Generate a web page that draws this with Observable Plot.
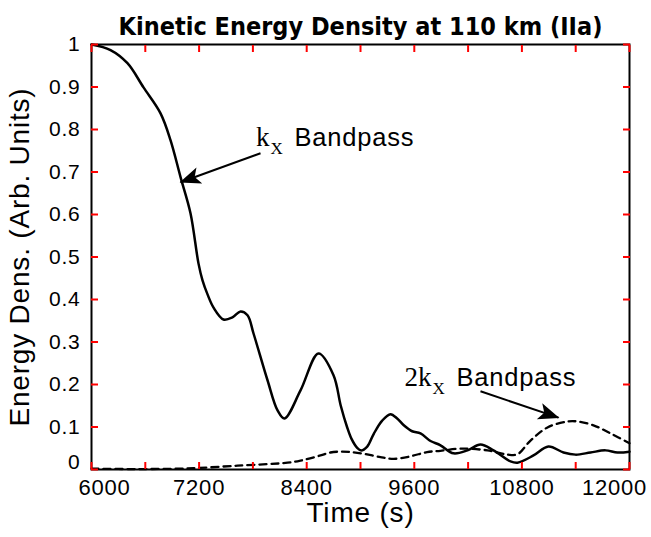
<!DOCTYPE html>
<html><head><meta charset="utf-8">
<script src="https://cdn.jsdelivr.net/npm/d3@7"></script>
<script src="https://cdn.jsdelivr.net/npm/@observablehq/plot@0.6"></script>
<style>
body{margin:0;background:#fff}
#chart g[font-weight="bold"] text{letter-spacing:0}
#chart g[font-family*="Serif"] text{letter-spacing:0}
</style></head><body><div id="chart"></div>
<script>
// k_x bandpass (solid)
const solidTime   = [6000, 6212, 6401, 6580, 6770, 6881, 6993, 7104, 7193, 7238, 7294, 7361, 7472, 7572, 7662, 7740, 7807, 7963, 8075, 8152, 8331, 8532, 8699, 8780, 8850, 8900, 8963, 9008, 9075, 9148, 9242, 9334, 9409, 9483, 9576, 9669, 9781, 9892, 10037, 10193, 10338, 10483, 10673, 10751, 10929, 11096, 11264, 11398, 11565, 11732, 11866, 12000];
const solidEnergy = [1.000, 0.987, 0.956, 0.899, 0.838, 0.775, 0.688, 0.603, 0.485, 0.445, 0.412, 0.381, 0.353, 0.358, 0.372, 0.363, 0.320, 0.210, 0.139, 0.120, 0.186, 0.273, 0.222, 0.150, 0.100, 0.072, 0.051, 0.045, 0.054, 0.084, 0.115, 0.130, 0.120, 0.104, 0.090, 0.085, 0.067, 0.057, 0.038, 0.045, 0.059, 0.045, 0.019, 0.016, 0.033, 0.054, 0.040, 0.035, 0.040, 0.045, 0.040, 0.042];
// 2k_x bandpass (dashed)
const dashedTime   = [6000, 6500, 7000, 7138, 7628, 8186, 8331, 8554, 8665, 8777, 8888, 9037, 9223, 9371, 9557, 9743, 9892, 10115, 10416, 10639, 10751, 10896, 11085, 11308, 11420, 11598, 11788, 12000];
const dashedEnergy = [0.002, 0.001, 0.002, 0.003, 0.009, 0.016, 0.021, 0.033, 0.040, 0.042, 0.041, 0.037, 0.029, 0.025, 0.031, 0.041, 0.044, 0.049, 0.045, 0.035, 0.036, 0.068, 0.099, 0.113, 0.113, 0.104, 0.085, 0.062];

const xTicks = [6000, 6600, 7200, 7800, 8400, 9000, 9600, 10200, 10800, 11400, 12000];
const xTickLabelsFirst = [6000];
const xTickLabelsMid = [7200, 8400, 9600, 10800];
const xTickLabelsLast = [12000];
const yTicks = [0, 0.1, 0.2, 0.3, 0.4, 0.5, 0.6, 0.7, 0.8, 0.9, 1];
const yTickLabels = [0.1, 0.2, 0.3, 0.4, 0.5, 0.6, 0.7, 0.8, 0.9, 1];
const yZeroLabel = [0];

const titleText = "Kinetic Energy Density at 110 km (IIa)";
const xLabel = "Time (s)";
const yLabel = "Energy Dens. (Arb. Units)";

// annotation labels (anchor = start of the subscript)
const labelTime   = [7996, 9803];
const labelEnergy = [0.761, 0.196];
const labelPre    = ["k", "2k"];
const labelSub    = ["X", "X"];
const labelText   = ["Bandpass", "Bandpass"];

// arrows
const arrowFromTime   = [7885, 10338];
const arrowFromEnergy = [0.744, 0.184];
const arrowToTime     = [6993, 11208];
const arrowToEnergy   = [0.676, 0.122];

const solid = solidTime.map((t, i) => ({t, v: solidEnergy[i]}));
const dashed = dashedTime.map((t, i) => ({t, v: dashedEnergy[i]}));
const labels = labelTime.map((t, i) => ({t, v: labelEnergy[i], pre: labelPre[i], sub: labelSub[i], text: labelText[i]}));
const arrows = arrowFromTime.map((t, i) => ({t1: t, v1: arrowFromEnergy[i], t2: arrowToTime[i], v2: arrowToEnergy[i]}));

const sans = "'Liberation Sans', Arial, Helvetica, sans-serif";
const serif = "'Liberation Serif', 'Times New Roman', serif";
const tickOpts = {tickSize: -7, tickFormat: () => "", label: null, stroke: "red", strokeWidth: 2};
const xLab = {anchor: "bottom", tickSize: 0, tickPadding: 10, fontSize: 22, label: null, tickFormat: d => String(d)};

const chart = Plot.plot({
  width: 651, height: 537,
  marginLeft: 91, marginRight: 22, marginTop: 44, marginBottom: 68,
  style: {fontFamily: sans, background: "#fff", color: "#000", letterSpacing: "0.8px"},
  x: {domain: [6000, 12000], axis: null},
  y: {domain: [0, 1], axis: null},
  marks: [
    Plot.line(dashed, {x: "t", y: "v", stroke: "#000", strokeWidth: 2.3, strokeDasharray: "7,5", curve: "catmull-rom"}),
    Plot.line(solid, {x: "t", y: "v", stroke: "#000", strokeWidth: 2.5, curve: "catmull-rom"}),
    Plot.frame({stroke: "#000", strokeWidth: 2}),
    Plot.axisX(xTicks, {anchor: "bottom", ...tickOpts}),
    Plot.axisX(xTicks, {anchor: "top", ...tickOpts}),
    Plot.axisY(yTicks, {anchor: "left", ...tickOpts}),
    Plot.axisY(yTicks, {anchor: "right", ...tickOpts}),
    Plot.axisX(xTickLabelsFirst, {...xLab, dx: 13}),
    Plot.axisX(xTickLabelsMid, xLab),
    Plot.axisX(xTickLabelsLast, {...xLab, dx: -15}),
    Plot.axisY(yTickLabels, {anchor: "left", tickSize: 0, tickPadding: 11, fontSize: 21, label: null, tickFormat: d => String(d)}),
    Plot.axisY(yZeroLabel, {anchor: "left", tickSize: 0, tickPadding: 11, fontSize: 21, label: null, dy: -7, tickFormat: d => String(d)}),
    Plot.text([titleText], {frameAnchor: "top", dy: -27, fontSize: 25, fontWeight: "bold", fontFamily: "'DejaVu Sans Condensed', 'DejaVu Sans', sans-serif"}),
    Plot.text([xLabel], {frameAnchor: "bottom", dy: 52, fontSize: 28}),
    Plot.text([yLabel], {frameAnchor: "left", textAnchor: "middle", dx: -71, rotate: -90, fontSize: 28}),
    Plot.link(arrows, {x1: "t1", y1: "v1", x2: "t2", y2: "v2", stroke: "#000", strokeWidth: 2}),
    Plot.text(labels, {x: "t", y: "v", text: "pre", textAnchor: "end", dx: -1, lineAnchor: "bottom", fontFamily: serif, fontSize: 27}),
    Plot.text(labels, {x: "t", y: "v", text: "sub", textAnchor: "start", dy: 8, lineAnchor: "bottom", fontFamily: serif, fontSize: 17}),
    Plot.text(labels, {x: "t", y: "v", text: "text", textAnchor: "start", dx: 24, lineAnchor: "bottom", fontSize: 25.5})
  ]
});

const sel = d3.select(chart);
const marker = sel.append("defs").append("marker")
  .attr("id", "ahead").attr("viewBox", "-22 -10 24 20")
  .attr("markerWidth", 24).attr("markerHeight", 20)
  .attr("markerUnits", "userSpaceOnUse").attr("orient", "auto")
  .attr("refX", 0).attr("refY", 0);
marker.append("path").attr("d", "M1,0L-20,-8.5L-15,0L-20,8.5Z").attr("fill", "#000");
sel.selectAll('g[aria-label="link"] path').attr("marker-end", "url(#ahead)");

document.getElementById("chart").append(chart);
</script></body></html>
